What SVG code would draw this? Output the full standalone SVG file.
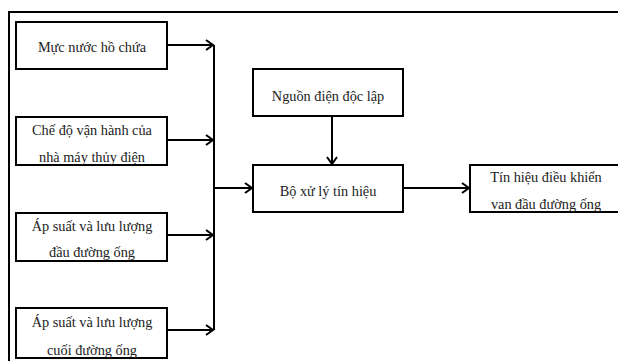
<svg xmlns="http://www.w3.org/2000/svg" width="618" height="361" viewBox="0 0 618 361">
<defs>
<style>
.box{fill:#fff;stroke:#000;stroke-width:2}
.ln{fill:none;stroke:#000;stroke-width:2}
.t{font-family:"Liberation Serif","Times New Roman",serif;font-size:14.3px;fill:#222;text-anchor:middle}
</style>
<marker id="arr" viewBox="0 0 12 12" refX="10" refY="6" markerWidth="12" markerHeight="12" markerUnits="userSpaceOnUse" orient="auto">
<path d="M3,1 L10,6 L3,11" fill="none" stroke="#000" stroke-width="2"/>
</marker>
</defs>
<rect width="618" height="361" fill="#fff"/>
<g id="frame">
<path class="ln" d="M9,361 V12 H618"/>
</g>
<g id="n1"><rect class="box" x="16" y="22" width="151" height="47"/><text class="t" x="92" y="52">Mực nước hồ chứa</text></g>
<g id="n2"><rect class="box" x="16" y="117" width="151" height="48"/><text class="t" x="92" y="135">Chế độ vận hành của</text><text class="t" x="92" y="162">nhà máy thủy điện</text></g>
<g id="n3"><rect class="box" x="16" y="213" width="151" height="48"/><text class="t" x="92" y="231">Áp suất và lưu lượng</text><text class="t" x="92" y="257">đầu đường ống</text></g>
<g id="n4"><rect class="box" x="16" y="308" width="151" height="50"/><text class="t" x="92" y="327">Áp suất và lưu lượng</text><text class="t" x="92" y="355">cuối đường ống</text></g>
<g id="n5"><rect class="box" x="253" y="69" width="150" height="47"/><text class="t" x="328" y="101">Nguồn điện độc lập</text></g>
<g id="n6"><rect class="box" x="253" y="165" width="150" height="47"/><text class="t" x="328" y="196">Bộ xử lý tín hiệu</text></g>
<g id="n7"><rect class="box" x="470" y="165" width="152" height="47"/><text class="t" x="546" y="182">Tín hiệu điều khiển</text><text class="t" x="546" y="209">van đầu đường ống</text></g>
<g id="connectors">
<path class="ln" d="M214,45 V330"/>
<path class="ln" d="M167,45 H213" marker-end="url(#arr)"/>
<path class="ln" d="M167,140 H213" marker-end="url(#arr)"/>
<path class="ln" d="M167,235 H213" marker-end="url(#arr)"/>
<path class="ln" d="M167,330 H213" marker-end="url(#arr)"/>
<path class="ln" d="M214,188 H252" marker-end="url(#arr)"/>
<path class="ln" d="M332,116 V164" marker-end="url(#arr)"/>
<path class="ln" d="M403,188 H469" marker-end="url(#arr)"/>
</g>
</svg>
